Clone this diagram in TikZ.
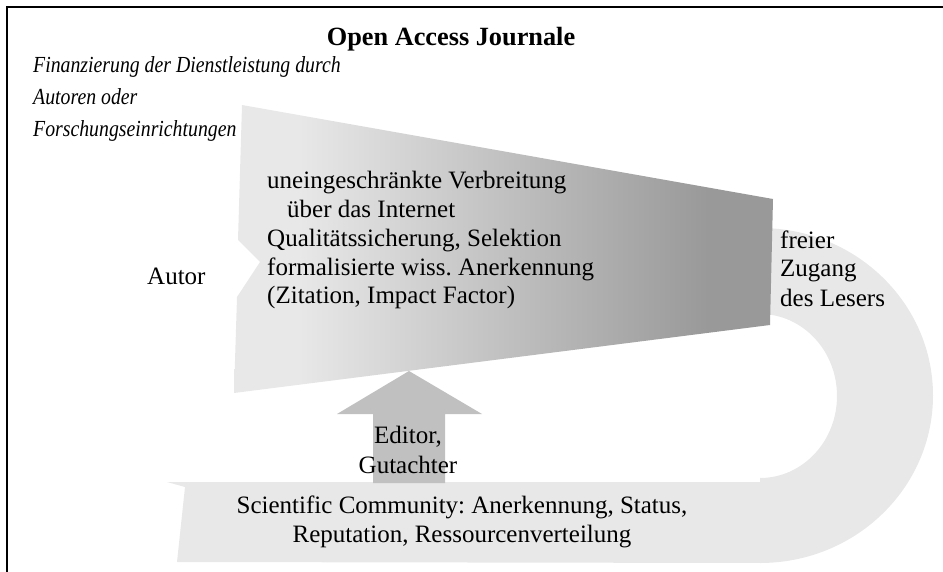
\documentclass[tikz,border=0pt]{standalone}
\usepackage{fontspec}
\usepackage{graphicx}
\setmainfont{Liberation Serif}
\frenchspacing
\definecolor{lightg}{HTML}{E8E8E8}
\definecolor{darkg}{HTML}{999999}
\definecolor{arrowg}{HTML}{C0C0C0}
\pgfdeclarehorizontalshading{funnelshade}{100bp}{color(0bp)=(lightg); color(31bp)=(lightg); color(69bp)=(darkg); color(100bp)=(darkg)}
\newcommand{\narrowit}[1]{\scalebox{0.86}[1]{#1}}
\begin{document}
\begin{tikzpicture}[x=1pt,y=-1pt,
  txt/.style={inner sep=0pt, anchor=base west, font=\fontsize{25}{29}\selectfont},
  ctxt/.style={inner sep=0pt, anchor=base, font=\fontsize{25}{29}\selectfont},
  itxt/.style={inner sep=0pt, anchor=base west, font=\fontsize{23}{27}\selectfont\itshape}]
\useasboundingbox (0,0) rectangle (943,572);
% frame
\draw[line width=2pt] (7,572) -- (7,7) -- (943,7);
% ring (reader -> community)
\fill[lightg] (760,228) arc[start angle=-90, end angle=90, x radius=173, y radius=167.5]
  -- (760,478) arc[start angle=90, end angle=-90, x radius=77, y radius=82] -- cycle;
% community band
\fill[lightg] (167,482) -- (185,487) -- (177,562) -- (761,563) -- (761,482) -- cycle;
% funnel
\shade[shading=funnelshade] (242,105) -- (773,199) -- (770,325) -- (234,393) -- (237,297) -- (260,262) -- (238,240) -- cycle;
% up arrow
\fill[arrowg] (409,371) -- (482,414) -- (445,414) -- (445,483) -- (373,483) -- (373,414) -- (337,414) -- cycle;
% texts
\node[ctxt, font=\fontsize{26.3}{30}\selectfont\bfseries] (title) at (451,46) {Open Access Journale};
\node[itxt] (fin1) at (33,73) {\narrowit{Finanzierung der Dienstleistung durch}};
\node[itxt] (fin2) at (33,105) {\narrowit{Autoren oder}};
\node[itxt] (fin3) at (33,137) {\narrowit{Forschungseinrichtungen}};
\node[txt] (autor) at (147,284) {Autor};
\node[txt] (f1) at (267,189) {uneingeschränkte Verbreitung};
\node[txt] (f2) at (287,218) {über das Internet};
\node[txt] (f3) at (267,247) {Qualitätssicherung, Selektion};
\node[txt] (f4) at (267,276) {formalisierte wiss. Anerkennung};
\node[txt] (f5) at (267,304) {(Zitation, Impact Factor)};
\node[txt] (r1) at (780,249) {freier};
\node[txt] (r2) at (780,277) {Zugang};
\node[txt] (r3) at (780,306) {des Lesers};
\node[ctxt] (e1) at (408,443) {Editor,};
\node[ctxt] (e2) at (408,473) {Gutachter};
\node[ctxt] (s1) at (462,513) {Scientific Community: Anerkennung, Status,};
\node[ctxt] (s2) at (462,542) {Reputation, Ressourcenverteilung};
\end{tikzpicture}
\end{document}
